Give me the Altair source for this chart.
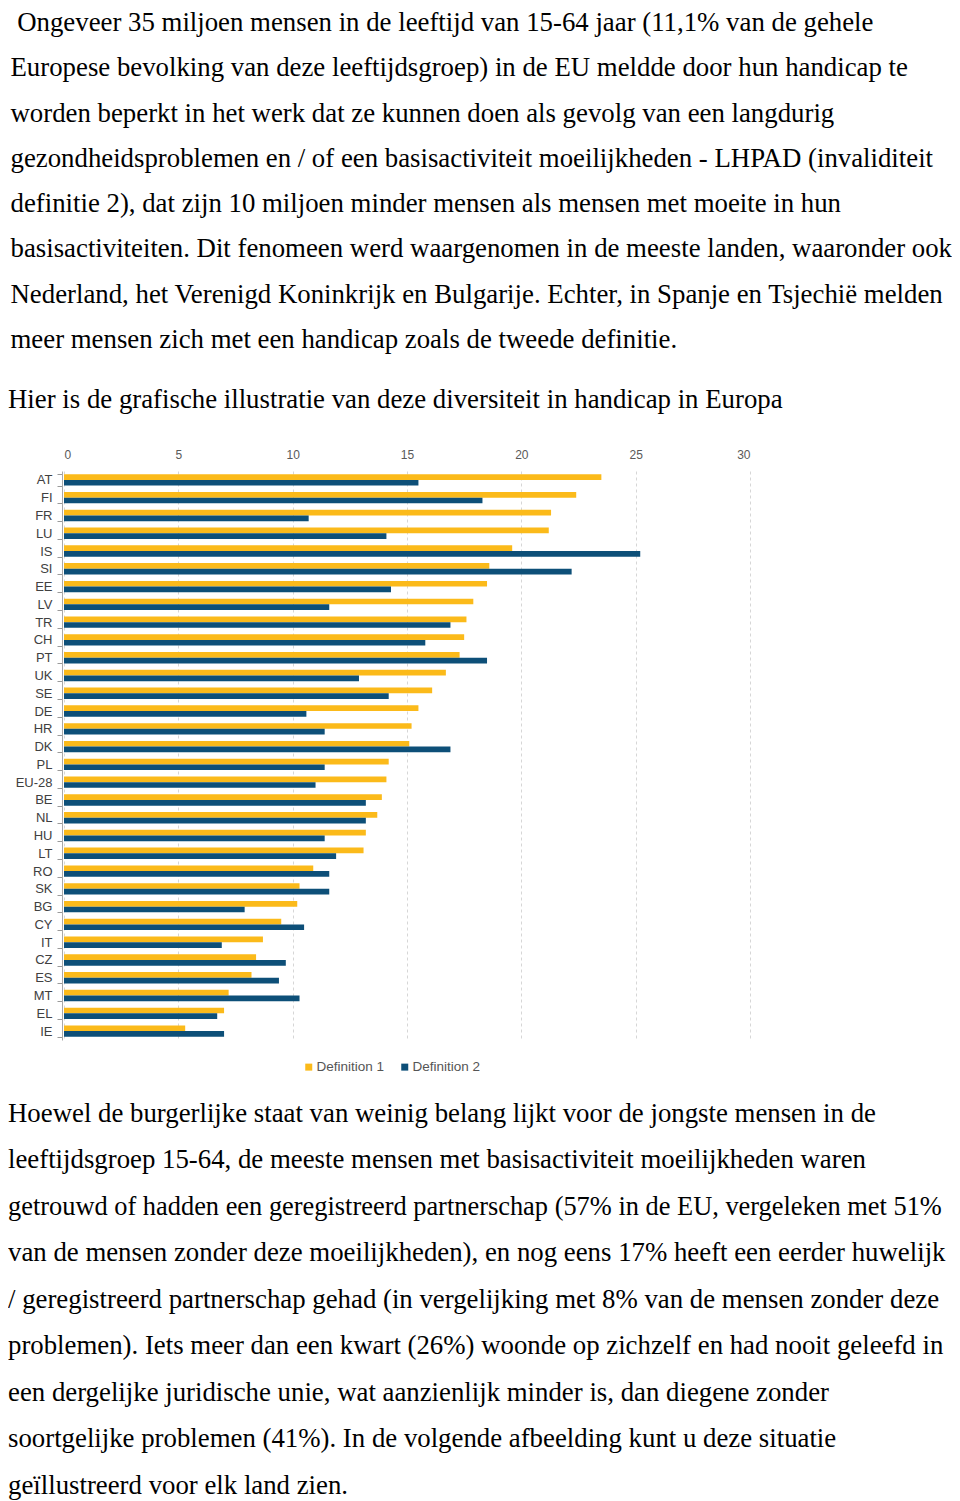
import altair as alt
import pandas as pd

# ---------------- data ----------------
countries = ["AT", "FI", "FR", "LU", "IS", "SI", "EE", "LV", "TR", "CH", "PT", "UK",
             "SE", "DE", "HR", "DK", "PL", "EU-28", "BE", "NL", "HU", "LT", "RO",
             "SK", "BG", "CY", "IT", "CZ", "ES", "MT", "EL", "IE"]
definition1 = [23.5, 22.4, 21.3, 21.2, 19.6, 18.6, 18.5, 17.9, 17.6, 17.5, 17.3, 16.7,
               16.1, 15.5, 15.2, 15.1, 14.2, 14.1, 13.9, 13.7, 13.2, 13.1, 10.9,
               10.3, 10.2, 9.5, 8.7, 8.4, 8.2, 7.2, 7.0, 5.3]
definition2 = [15.5, 18.3, 10.7, 14.1, 25.2, 22.2, 14.3, 11.6, 16.9, 15.8, 18.5, 12.9,
               14.2, 10.6, 11.4, 16.9, 11.4, 11.0, 13.2, 13.2, 11.4, 11.9, 11.6,
               11.6, 7.9, 10.5, 6.9, 9.7, 9.4, 10.3, 6.7, 7.0]
series = ["Definition 1", "Definition 2"]
x_ticks = [0, 5, 10, 15, 20, 25, 30]

para1 = [
    "\u200b\u00a0Ongeveer 35 miljoen mensen in de leeftijd van 15-64 jaar (11,1% van de gehele",
    "Europese bevolking van deze leeftijdsgroep) in de EU meldde door hun handicap te",
    "worden beperkt in het werk dat ze kunnen doen als gevolg van een langdurig",
    "gezondheidsproblemen en / of een basisactiviteit moeilijkheden - LHPAD (invaliditeit",
    "definitie 2), dat zijn 10 miljoen minder mensen als mensen met moeite in hun",
    "basisactiviteiten. Dit fenomeen werd waargenomen in de meeste landen, waaronder ook",
    "Nederland, het Verenigd Koninkrijk en Bulgarije. Echter, in Spanje en Tsjechië melden",
    "meer mensen zich met een handicap zoals de tweede definitie.",
]
para2 = ["Hier is de grafische illustratie van deze diversiteit in handicap in Europa"]
para3 = [
    "Hoewel de burgerlijke staat van weinig belang lijkt voor de jongste mensen in de",
    "leeftijdsgroep 15-64, de meeste mensen met basisactiviteit moeilijkheden waren",
    "getrouwd of hadden een geregistreerd partnerschap (57% in de EU, vergeleken met 51%",
    "van de mensen zonder deze moeilijkheden), en nog eens 17% heeft een eerder huwelijk",
    "/ geregistreerd partnerschap gehad (in vergelijking met 8% van de mensen zonder deze",
    "problemen). Iets meer dan een kwart (26%) woonde op zichzelf en had nooit geleefd in",
    "een dergelijke juridische unie, wat aanzienlijk minder is, dan diegene zonder",
    "soortgelijke problemen (41%). In de volgende afbeelding kunt u deze situatie",
    "geïllustreerd voor elk land zien.",
]

# ---------------- layout (page pixels) ----------------
PAGE_MARGIN = 8
PAD_LEFT, PAD_TOP = 56, 463          # plot area origin at page (64, 471)
PLOT_W, PLOT_H = 686, 569
TOTAL_W, TOTAL_H = 944, 1493
ORIGIN_X = PAGE_MARGIN + PAD_LEFT
ORIGIN_Y = PAGE_MARGIN + PAD_TOP
FONT = 26.8


def text_layer(lines, first_baseline, step, x_page, size=None):
    df = pd.DataFrame({"line": lines, "i": list(range(len(lines)))})
    n = max(len(lines) - 1, 1)
    y0 = first_baseline - ORIGIN_Y
    enc = dict(
        x=alt.value(x_page - ORIGIN_X),
        y=alt.Y("i:Q", axis=None,
                scale=alt.Scale(domain=[0, n], range=[y0, y0 + n * step],
                                nice=False, zero=False)),
        text="line:N",
    )
    if size is not None:
        enc["size"] = size
    return (
        alt.Chart(df)
        .mark_text(align="left", baseline="alphabetic", font="Liberation Serif",
                   fontSize=FONT, color="#000000")
        .encode(**enc)
    )


t1 = text_layer(para1, 31, 45.27, 10.5)
t2 = text_layer(para2, 408, 46.5, 8)
t3 = text_layer(para3, 1121.5, 46.5, 8,
                size=alt.condition("datum.i == 2", alt.value(26.4), alt.value(FONT)))

# ---------------- bar chart ----------------
rows = []
for c, v1, v2 in zip(countries, definition1, definition2):
    rows.append({"country": c, "series": series[0], "value": v1})
    rows.append({"country": c, "series": series[1], "value": v2})
bar_df = pd.DataFrame(rows)

bars = (
    alt.Chart(bar_df)
    .mark_bar()
    .encode(
        x=alt.X("value:Q", scale=alt.Scale(domain=[0, 30], nice=False),
                axis=alt.Axis(orient="top", values=x_ticks, title=None, grid=True,
                              gridDash=[3, 3], gridColor="#d6d6d6", gridWidth=1,
                              domain=False, ticks=False, labelPadding=10,
                              labelFontSize=12, labelColor="#595959",
                              labelFont="Liberation Sans")),
        y=alt.Y("country:N", sort=countries, title=None,
                scale=alt.Scale(paddingInner=0.36, paddingOuter=0.18),
                axis=alt.Axis(tickBand="extent", offset=2, tickSize=5, tickColor="#9a9a9a",
                              domainColor="#a8a8a8", labelPadding=5, labelFontSize=13,
                              labelColor="#404040", labelFont="Liberation Sans",
                              grid=False)),
        yOffset=alt.YOffset("series:N", sort=series),
        color=alt.Color("series:N", sort=series,
                        scale=alt.Scale(domain=series, range=["#FBBA1A", "#0D4F78"]),
                        legend=alt.Legend(orient="none", legendX=238, legendY=589,
                                          direction="horizontal", title=None,
                                          symbolType="square", symbolSize=49,
                                          symbolStrokeWidth=0, labelFontSize=13.5,
                                          labelColor="#555555", labelFont="Liberation Sans",
                                          labelOffset=1, columnPadding=13, padding=0)),
    )
)

chart = (
    alt.layer(bars, t1, t2, t3)
    .resolve_scale(y="independent")
    .properties(
        width=PLOT_W,
        height=PLOT_H,
        padding={"left": PAD_LEFT, "top": PAD_TOP,
                 "right": TOTAL_W - PAD_LEFT - PLOT_W,
                 "bottom": TOTAL_H - PAD_TOP - PLOT_H},
        autosize=alt.AutoSizeParams(type="none"),
        background="white",
    )
    .configure_view(strokeWidth=0)
)

chart.save("out.html", embed_options={"renderer": "svg", "actions": False})
